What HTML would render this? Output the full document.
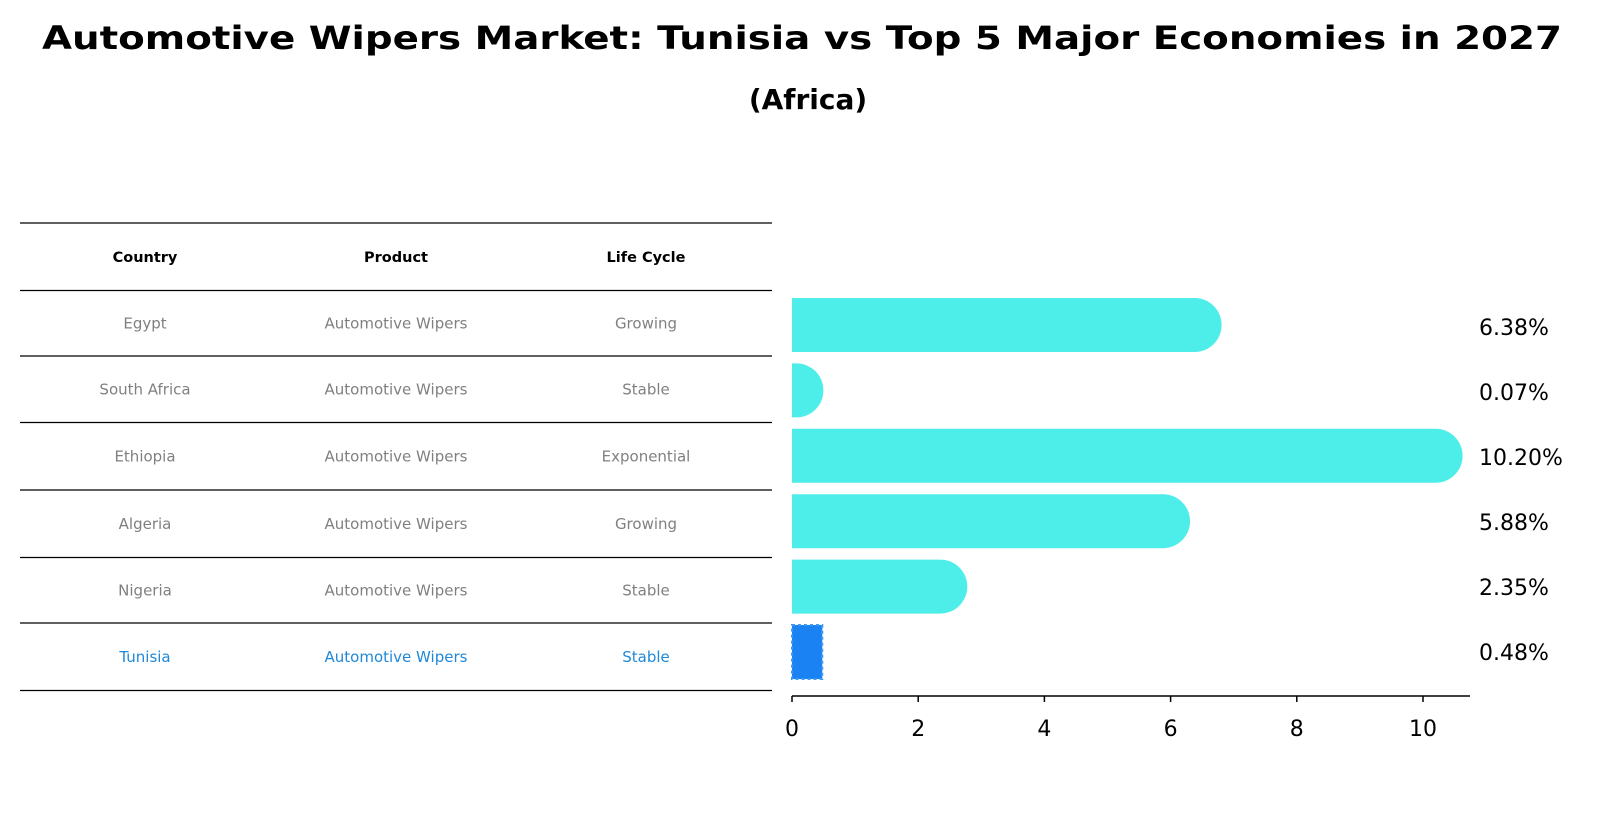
<!DOCTYPE html>
<html><head><meta charset="utf-8"><style>
body{margin:0;background:#fff}
svg{display:block;font-family:"DejaVu Sans","Liberation Sans",sans-serif}
</style></head><body>
<svg id="chart" width="1604" height="823" viewBox="0 0 1604 823">
<text x="802" y="49" text-anchor="middle" font-size="32" font-weight="bold" textLength="1520" lengthAdjust="spacingAndGlyphs">Automotive Wipers Market: Tunisia vs Top 5 Major Economies in 2027</text>
<text x="808" y="109" text-anchor="middle" font-size="28" font-weight="bold">(Africa)</text>
<g id="table"></g>
<g id="bars"></g>
</svg>
<script>
const countries=["Egypt","South Africa","Ethiopia","Algeria","Nigeria","Tunisia"];
const products=["Automotive Wipers","Automotive Wipers","Automotive Wipers","Automotive Wipers","Automotive Wipers","Automotive Wipers"];
const lifeCycles=["Growing","Stable","Exponential","Growing","Stable","Stable"];
const values=[6.38,0.07,10.20,5.88,2.35,0.48];
const valueLabels=["6.38%","0.07%","10.20%","5.88%","2.35%","0.48%"];
const ticks=[0,2,4,6,8,10];
const headers=["Country","Product","Life Cycle"];

const NS="http://www.w3.org/2000/svg";
function mk(tag,attrs,parent){const e=document.createElementNS(NS,tag);for(const k in attrs)e.setAttribute(k,attrs[k]);parent.appendChild(e);return e;}
const tbl=document.getElementById('table'), bars=document.getElementById('bars');
const colX=[145,396,646];
const lineY=[223,290.5,356,422.5,490,557.5,623,690.5];
for(let i=0;i<lineY.length;i++){
 const l=mk('line',{x1:20,x2:772,y1:lineY[i],y2:lineY[i],stroke:'#000','stroke-width':1.2},tbl);
 
 
}
headers.forEach((h,j)=>{
 const t=mk('text',{x:colX[j],y:262,'text-anchor':'middle','font-size':14.5,'font-weight':'bold'},tbl);
 t.textContent=h;
 
 
});
countries.forEach((c,i)=>{
 const cy=(lineY[i+1]+lineY[i+2])/2+5;
 const col=i===countries.length-1?'#1f88d8':'#808080';
 [c,products[i],lifeCycles[i]].forEach((v,j)=>{
  const t=mk('text',{x:colX[j],y:cy,'text-anchor':'middle','font-size':15,fill:col},tbl);
  t.textContent=v;
  
  
 });
});
// axis
const x0=792, pxPer=63.1;
const xs=v=>x0+v*pxPer;
const rowY=i=>325+i*65.4;
const bh=54;
values.forEach((v,i)=>{
 const y=rowY(i)-bh/2;
 const last=i===values.length-1;
 if(last){
  const r=mk('rect',{x:x0,y:y,width:xs(v)-x0,height:bh,fill:'#1a82f2',stroke:'#3a9af5','stroke-width':2,'stroke-dasharray':'3,3'},bars);
  
  
 } else {
  const w=xs(v)-x0, r0=bh/2;
  let d;
  if(w<3){d=`M${x0},${y}h${Math.max(w,5)}v${bh}h${-Math.max(w,5)}z`;}
  else d=`M${x0},${y}H${xs(v)}A${r0},${r0} 0 0 1 ${xs(v)},${y+bh}H${x0}Z`;
  const p=mk('path',{d:d,fill:'#4deeea'},bars);
  
  
 }
 const t=mk('text',{x:1479,y:327+i*65+8,'font-size':22},bars);
 t.textContent=valueLabels[i];
 
 
});
const ax=mk('line',{x1:x0,x2:1470,y1:696,y2:696,stroke:'#000','stroke-width':1.5},bars);


ticks.forEach(v=>{
 const tk=mk('line',{x1:xs(v),x2:xs(v),y1:696,y2:702,stroke:'#000','stroke-width':1.5},bars);
 
 
 const t=mk('text',{x:xs(v),y:736,'text-anchor':'middle','font-size':22},bars);
 t.textContent=v;
 
 
});
</script>
</body></html>
